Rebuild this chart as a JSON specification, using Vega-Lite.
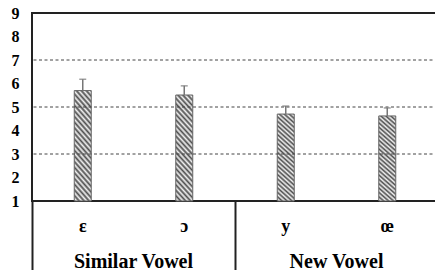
{
  "$schema": "https://vega.github.io/schema/vega-lite/v6.json",
  "autosize": {"type": "none"},
  "width": 406,
  "height": 188,
  "padding": {"left": 32, "top": 13, "right": -3, "bottom": 69},
  "background": "white",
  "config": {
    "view": {"stroke": "#222222", "strokeWidth": 2}
  },
  "data": {"values": [
    {"vowel": "ε", "group": "Similar Vowel", "mean": 5.70, "hi": 6.18},
    {"vowel": "ɔ", "group": "Similar Vowel", "mean": 5.51, "hi": 5.90},
    {"vowel": "y", "group": "New Vowel", "mean": 4.70, "hi": 5.04},
    {"vowel": "œ", "group": "New Vowel", "mean": 4.62, "hi": 4.96}
  ]},
  "resolve": {"axis": {"x": "independent", "y": "independent"}},
  "layer": [
    {
      "mark": {
        "type": "bar",
        "size": 17,
        "stroke": "#666666",
        "strokeWidth": 1,
        "fill": {
          "gradient": "linear",
          "x1": 0, "y1": 1, "x2": 0.2, "y2": -0.14,
          "stops": [
            {"offset": 0, "color": "#4d4d4d"},
            {"offset": 0.0217, "color": "#f2f2f2"},
            {"offset": 0.0435, "color": "#4d4d4d"},
            {"offset": 0.0652, "color": "#f2f2f2"},
            {"offset": 0.0870, "color": "#4d4d4d"},
            {"offset": 0.1087, "color": "#f2f2f2"},
            {"offset": 0.1304, "color": "#4d4d4d"},
            {"offset": 0.1522, "color": "#f2f2f2"},
            {"offset": 0.1739, "color": "#4d4d4d"},
            {"offset": 0.1957, "color": "#f2f2f2"},
            {"offset": 0.2174, "color": "#4d4d4d"},
            {"offset": 0.2391, "color": "#f2f2f2"},
            {"offset": 0.2609, "color": "#4d4d4d"},
            {"offset": 0.2826, "color": "#f2f2f2"},
            {"offset": 0.3043, "color": "#4d4d4d"},
            {"offset": 0.3261, "color": "#f2f2f2"},
            {"offset": 0.3478, "color": "#4d4d4d"},
            {"offset": 0.3696, "color": "#f2f2f2"},
            {"offset": 0.3913, "color": "#4d4d4d"},
            {"offset": 0.4130, "color": "#f2f2f2"},
            {"offset": 0.4348, "color": "#4d4d4d"},
            {"offset": 0.4565, "color": "#f2f2f2"},
            {"offset": 0.4783, "color": "#4d4d4d"},
            {"offset": 0.5, "color": "#f2f2f2"},
            {"offset": 0.5217, "color": "#4d4d4d"},
            {"offset": 0.5435, "color": "#f2f2f2"},
            {"offset": 0.5652, "color": "#4d4d4d"},
            {"offset": 0.5870, "color": "#f2f2f2"},
            {"offset": 0.6087, "color": "#4d4d4d"},
            {"offset": 0.6304, "color": "#f2f2f2"},
            {"offset": 0.6522, "color": "#4d4d4d"},
            {"offset": 0.6739, "color": "#f2f2f2"},
            {"offset": 0.6957, "color": "#4d4d4d"},
            {"offset": 0.7174, "color": "#f2f2f2"},
            {"offset": 0.7391, "color": "#4d4d4d"},
            {"offset": 0.7609, "color": "#f2f2f2"},
            {"offset": 0.7826, "color": "#4d4d4d"},
            {"offset": 0.8043, "color": "#f2f2f2"},
            {"offset": 0.8261, "color": "#4d4d4d"},
            {"offset": 0.8478, "color": "#f2f2f2"},
            {"offset": 0.8696, "color": "#4d4d4d"},
            {"offset": 0.8913, "color": "#f2f2f2"},
            {"offset": 0.9130, "color": "#4d4d4d"},
            {"offset": 0.9348, "color": "#f2f2f2"},
            {"offset": 0.9565, "color": "#4d4d4d"},
            {"offset": 0.9783, "color": "#f2f2f2"},
            {"offset": 1, "color": "#4d4d4d"}
          ]
        }
      },
      "encoding": {
        "x": {
          "field": "vowel", "type": "nominal", "sort": null,
          "scale": {"paddingInner": 0, "paddingOuter": 0},
          "axis": {
            "orient": "bottom", "title": null, "domain": false, "ticks": false, "labelAngle": 0,
            "labelFont": "Liberation Serif", "labelFontWeight": "bold", "labelFontSize": 18,
            "labelColor": "#000000", "labelPadding": 30, "labelBaseline": "alphabetic"
          }
        },
        "y": {
          "field": "mean", "type": "quantitative",
          "scale": {"domain": [1, 9], "nice": false, "zero": false},
          "axis": {
            "orient": "left", "title": null, "domain": false, "ticks": false, "grid": false,
            "values": [1, 2, 3, 4, 5, 6, 7, 8, 9], "labelOverlap": false,
            "labelFont": "Liberation Serif", "labelFontWeight": "bold", "labelFontSize": 16,
            "labelColor": "#000000", "labelPadding": 13
          }
        },
        "y2": {"datum": 1}
      }
    },
    {
      "data": {"values": [{"g": 3}, {"g": 5}, {"g": 7}]},
      "mark": {"type": "rule", "color": "#444444", "strokeWidth": 1, "strokeDash": [3, 2.5]},
      "encoding": {
        "y": {"field": "g", "type": "quantitative", "axis": null}
      }
    },
    {
      "mark": {"type": "rule", "color": "#777777", "strokeWidth": 1.5},
      "encoding": {
        "x": {
          "field": "vowel", "type": "nominal", "sort": null,
          "axis": {
            "orient": "bottom", "title": null, "domain": false,
            "values": ["ε", "y"], "bandPosition": 0,
            "ticks": true, "tickSize": 69, "tickColor": "#222222", "tickWidth": 2,
            "labelExpr": "datum.value == 'ε' ? 'Similar Vowel' : 'New Vowel'",
            "labelOffset": 50.75, "labelPadding": -3, "labelAngle": 0, "labelBaseline": "alphabetic",
            "labelFont": "Liberation Serif", "labelFontWeight": "bold", "labelFontSize": 20,
            "labelColor": "#000000"
          }
        },
        "y": {"field": "mean", "type": "quantitative", "axis": null},
        "y2": {"field": "hi"}
      }
    },
    {
      "mark": {"type": "tick", "color": "#777777", "thickness": 1.5, "size": 7, "orient": "horizontal"},
      "encoding": {
        "x": {"field": "vowel", "type": "nominal", "sort": null, "axis": null},
        "y": {"field": "hi", "type": "quantitative", "axis": null}
      }
    }
  ]
}
